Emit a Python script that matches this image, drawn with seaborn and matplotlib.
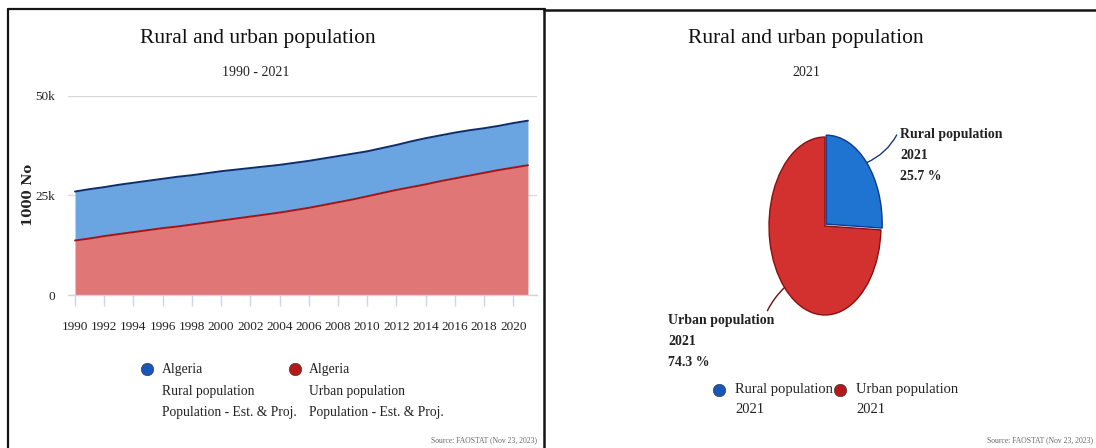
import numpy as np
import pandas as pd
import matplotlib
matplotlib.use("Agg")
import matplotlib.pyplot as plt
import seaborn as sns
from matplotlib.lines import Line2D

# ---------------- data ----------------
years = list(range(1990, 2022))
# values in thousands of "1000 No" (axis labelled 0 / 25k / 50k)
rural = [12.3, 12.4, 12.3, 12.4, 12.4, 12.4, 12.4, 12.5, 12.4, 12.4, 12.4, 12.3,
         12.2, 12.1, 12.0, 11.9, 11.8, 11.7, 11.6, 11.5, 11.3, 11.3, 11.3, 11.5,
         11.6, 11.5, 11.5, 11.4, 11.2, 11.1, 11.2, 11.2]
urban = [13.7, 14.2, 14.8, 15.3, 15.8, 16.3, 16.8, 17.2, 17.7, 18.2, 18.7, 19.2,
         19.7, 20.2, 20.7, 21.3, 21.9, 22.6, 23.3, 24.0, 24.8, 25.6, 26.4, 27.1,
         27.8, 28.6, 29.3, 30.0, 30.7, 31.4, 32.0, 32.6]
x_ticks = list(range(1990, 2021, 2))
y_ticks = [0, 25, 50]
y_tick_labels = ["0", "25k", "50k"]

area_legend = ["Algeria\nRural population\nPopulation - Est. & Proj.",
               "Algeria\nUrban population\nPopulation - Est. & Proj."]

pie_labels = ["Rural population", "Urban population"]
pie_year = "2021"
pie_pct = [25.7, 74.3]

title = "Rural and urban population"
sub_left = "1990 - 2021"
sub_right = "2021"
source = "Source: FAOSTAT (Nov 23, 2023)"

# ---------------- style ----------------
sns.set_theme(style="white")
plt.rcParams['font.family'] = ['Liberation Serif', 'DejaVu Serif']

blue_fill, blue_line = "#6aa5e1", "#0d2d6b"
red_fill, red_line = "#e17676", "#a31515"
pie_blue, pie_red = "#1f74d1", "#d33030"
mk_blue, mk_red = "#1a56b8", "#b51a1a"

W, H = 1096, 448
fig = plt.figure(figsize=(W / 100, H / 100), dpi=100)


def fx(px):
    return px / W


def fy(py):
    return 1 - py / H


# ---------------- panel borders ----------------
bc = "#151515"
fig.add_artist(Line2D([fx(8), fx(8)], [fy(9), 0], color=bc, lw=1.6))
fig.add_artist(Line2D([fx(8), fx(545)], [fy(9), fy(9)], color=bc, lw=1.6))
fig.add_artist(Line2D([fx(544), fx(544)], [fy(9), 0], color=bc, lw=1.8))
fig.add_artist(Line2D([fx(544), 1], [fy(10.5), fy(10.5)], color=bc, lw=1.8))

# ---------------- left: stacked area ----------------
ax = fig.add_axes([fx(68), fy(295), fx(537) - fx(68), fy(96) - fy(295)])
df = pd.DataFrame({"year": years, "rural": rural, "urban": urban})
df["total"] = df["urban"] + df["rural"]

ax.fill_between(df["year"], 0, df["urban"], color=red_fill, lw=0, zorder=2)
ax.fill_between(df["year"], df["urban"], df["total"], color=blue_fill, lw=0, zorder=2)
sns.lineplot(data=df, x="year", y="urban", color=red_line, lw=1.4, ax=ax, zorder=3)
sns.lineplot(data=df, x="year", y="total", color=blue_line, lw=1.4, ax=ax, zorder=3)

ax.set_xlim(1989.52, 2021.62)
ax.set_ylim(0, 50)
ax.set_xticks(x_ticks)
ax.set_xticklabels([str(y) for y in x_ticks], fontsize=9.5, color="#222")
ax.set_yticks(y_ticks)
ax.set_yticklabels(y_tick_labels, fontsize=9.5, color="#222")
ax.set_xlabel("")
ax.set_ylabel("")
ax.yaxis.grid(True, color="#d9d9d9", lw=1)
ax.set_axisbelow(True)
for s in ["top", "right", "left"]:
    ax.spines[s].set_visible(False)
ax.spines["bottom"].set_color("#ccd6eb")
ax.spines["bottom"].set_linewidth(1)
ax.tick_params(axis="x", length=8, width=1, color="#ccd6eb", direction="out", pad=10.5, bottom=True)
ax.tick_params(axis="y", length=0, pad=9)

fig.text(fx(28), fy(195), "1000 No", rotation=90, ha="center", va="center",
         fontsize=9.5, fontweight="bold", family="DejaVu Serif", color="#222")

fig.text(fx(258), fy(39), title, ha="center", va="center", fontsize=15.5, color="#111")
fig.text(fx(256), fy(72), sub_left, ha="center", va="center", fontsize=10, color="#222")

# legend (left)
for (mx, tx), lab, c in zip([(147, 162), (295, 309)], area_legend, [mk_blue, mk_red]):
    fig.add_artist(Line2D([fx(mx)], [fy(369)], marker="o", markersize=9, color=c,
                          markeredgecolor="#333", markeredgewidth=0.4, linestyle="none"))
    fig.text(fx(tx), fy(363), lab, ha="left", va="top", fontsize=9.8,
             linespacing=1.85, color="#222")

fig.text(fx(537), fy(440), source, ha="right", va="center", fontsize=5.5, color="#666")

# ---------------- right: pie ----------------
axp = fig.add_axes([fx(769), fy(315), fx(881) - fx(769), fy(137) - fy(315)])
wedges, _ = axp.pie(pie_pct, colors=[pie_blue, pie_red], startangle=90,
                    counterclock=False, explode=[0.03, 0],
                    wedgeprops=dict(linewidth=1.0))
wedges[0].set_edgecolor("#0d3a8a")
wedges[1].set_edgecolor("#8a1010")
for w in wedges:
    w.set_clip_on(False)
axp.set_aspect("auto")
axp.set_xlim(-1.0, 1.0)
axp.set_ylim(-1.0, 1.0)
axp.axis("off")

conn_colors = ["#1a3c80", "#6a1010"]
text_pos = [(900, 448 - 128), (668, 448 - 314)]
relposes = [(0, 1), (0.92, 1)]
rads = [-0.2, -0.1]
for w, lab, pct, tp, rp, cc, rad in zip(wedges, pie_labels, pie_pct, text_pos,
                                         relposes, conn_colors, rads):
    ang = np.deg2rad((w.theta1 + w.theta2) / 2)
    cx, cy = w.center
    xy = (cx + np.cos(ang), cy + np.sin(ang))
    axp.annotate(f"{lab}\n{pie_year}\n{pct:.1f} %", xy=xy, xytext=tp,
                 textcoords="figure pixels", ha="left", va="top", fontsize=10,
                 fontweight="bold", linespacing=1.8, color="#222",
                 arrowprops=dict(arrowstyle="-", color=cc, lw=1, relpos=rp,
                                 shrinkA=0, shrinkB=0,
                                 connectionstyle=f"arc3,rad={rad}"))

fig.text(fx(806), fy(39), title, ha="center", va="center", fontsize=15.5, color="#111")
fig.text(fx(806), fy(72), sub_right, ha="center", va="center", fontsize=10, color="#222")

for (mx, tx), lab, c in zip([(719, 735), (840, 856)], pie_labels, [mk_blue, mk_red]):
    fig.add_artist(Line2D([fx(mx)], [fy(390)], marker="o", markersize=9, color=c,
                          markeredgecolor="#333", markeredgewidth=0.4, linestyle="none"))
    fig.text(fx(tx), fy(383), f"{lab}\n{pie_year}", ha="left", va="top", fontsize=10.5,
             linespacing=1.65, color="#222")

fig.text(fx(1093), fy(440), source, ha="right", va="center", fontsize=5.5, color="#666")

fig.savefig("out.png", dpi=100)
